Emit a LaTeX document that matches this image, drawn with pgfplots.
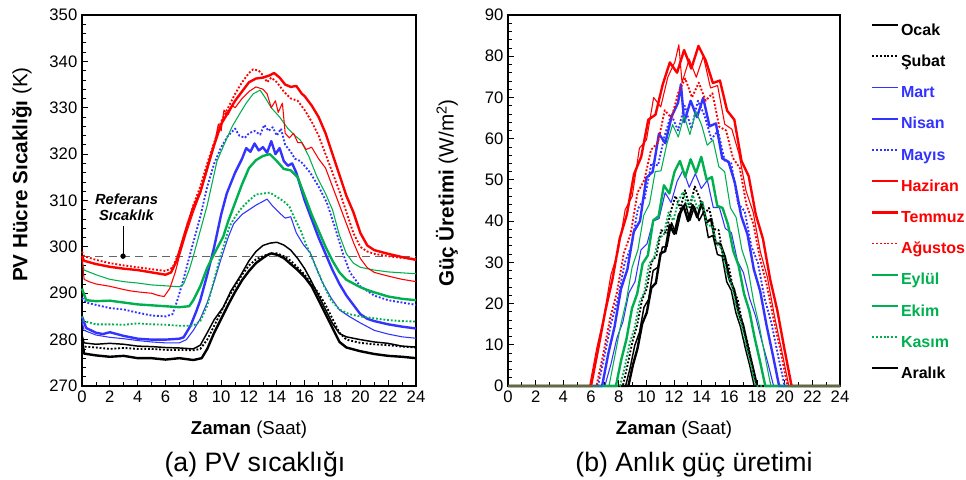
\documentclass[border=0pt]{standalone}
\usepackage{fontspec}
\setmainfont{Liberation Sans}
\usepackage{pgfplots}
\pgfplotsset{compat=1.18}
\definecolor{cblue}{RGB}{51,51,255}
\definecolor{cred}{RGB}{255,0,0}
\definecolor{cgreen}{RGB}{0,176,80}
\pgfplotsset{
 common/.style={
  scale only axis, height=278.25pt,
  xmin=0, xmax=24, xtick={0,2,...,24}, minor x tick num=1,
  tick pos=left, tick align=inside, major tick length=4.5pt, minor tick length=3pt,
  tick style={black, line width=0.6pt},
  axis line style={line width=0.8pt},
  /pgf/number format/assume math mode=true,
  ticklabel style={font=\fontsize{12.5}{14}\selectfont},
  xlabel style={font=\fontsize{14}{16}\selectfont, at={(axis description cs:0.5,-0.119)}, anchor=center},
  ylabel style={font=\fontsize{15.5}{17}\selectfont, anchor=center},
  clip=false,
  every axis plot/.append style={mark=none, line join=round},
 },
 sOcak/.style={black, line width=1.8pt},
 sSubat/.style={black, line width=1.4pt, dash pattern=on 1.4pt off 1.4pt},
 sMart/.style={cblue, line width=0.8pt},
 sNisan/.style={cblue, line width=1.8pt},
 sMayis/.style={cblue, line width=1.4pt, dash pattern=on 1.4pt off 1.4pt},
 sHaziran/.style={cred, line width=0.8pt},
 sTemmuz/.style={cred, line width=1.8pt},
 sAgustos/.style={cred, line width=1.4pt, dash pattern=on 1.4pt off 1.4pt},
 sEylul/.style={cgreen, line width=0.8pt},
 sEkim/.style={cgreen, line width=1.8pt},
 sKasim/.style={cgreen, line width=1.4pt, dash pattern=on 1.4pt off 1.4pt},
 sAralik/.style={black, line width=1.1pt},
}
\begin{document}
\begin{tikzpicture}
\useasboundingbox (0,0) rectangle (724.5pt,359.25pt);
% ---------------- (a) PV temperature ----------------
\begin{axis}[common, width=250.5pt, at={(61.5pt,69.75pt)}, anchor=south west,
  ymin=270, ymax=350, ytick={270,280,...,350}, minor y tick num=4,
  xlabel={\textbf{Zaman} (Saat)},
  ylabel={\textbf{PV Hücre Sıcaklığı} (K)},
  ylabel style={at={(axis description cs:-0.18,0.57)}},
]
\addplot[gray!80!black, line width=0.8pt, dash pattern=on 6pt off 4pt] coordinates {(0,298)(24,298)};
\addplot[sOcak] coordinates {(0,280)(0.15,277)(1,276.6)(2,276.3)(3,276.5)(4,276)(5,276)(6,275.7)(7,276)(8,275.6)(8.6,276)(9,278)(9.5,281.5)(10,284.5)(10.5,287.5)(11,290.3)(11.5,292.8)(12,294.8)(12.5,296.5)(13,297.6)(13.3,298.2)(13.6,298.6)(14,298.3)(14.5,297.6)(15,296.3)(15.5,295)(16,293.5)(16.5,291.5)(17,288.5)(17.5,285.5)(18,282.5)(18.5,279.5)(19,278.3)(20,277.5)(21,276.9)(22,276.5)(23,276.3)(24,276)};
\addplot[sSubat] coordinates {(0,279)(0.15,278.5)(1,278.3)(2,278)(3,278.2)(4,278)(5,278)(6,277.8)(7,277.8)(8,277.7)(8.5,278)(9,280)(9.5,283)(10,286)(10.5,289)(11,291.5)(11.5,294)(12,296)(12.5,297.3)(13,298)(13.5,298.5)(14,298.6)(14.5,298)(15,297)(15.5,295.5)(16,294)(16.5,292)(17,290)(17.5,287.5)(18,284.5)(18.5,281.5)(19,280)(20,279.3)(21,279)(22,278.8)(23,278.5)(24,278.3)};
\addplot[sAralik] coordinates {(0,281)(0.15,279.3)(1,279)(2,279.2)(3,279)(4,278.6)(5,278.5)(6,278.3)(7,278.2)(8,278)(8.5,278.8)(9,281.5)(9.5,284.3)(10.15,287)(10.7,290.5)(11.35,293.6)(12,297)(12.5,299)(13,300.3)(13.5,300.8)(14,301)(14.5,300.4)(15,299.3)(15.5,297.5)(16,295.3)(16.5,292.5)(17,289.5)(17.5,286.5)(18,283.5)(18.5,281.3)(19,280.6)(20,280)(21,279.5)(22,279.2)(23,278.6)(24,278.4)};
\addplot[sMart] coordinates {(0,284)(0.15,282)(1,281)(2,280.5)(3,280.2)(4,279.8)(5,279.5)(6,279.3)(7,279.3)(7.5,280)(8,282)(8.5,284.5)(9,288)(9.5,292.5)(10,297.5)(10.5,302)(10.9,305)(11.5,307)(12,308)(12.5,309)(13,309.8)(13.3,310.3)(13.7,308.8)(14.2,307.3)(14.6,306.2)(15,306.5)(15.4,303)(15.9,300.5)(16.4,298.7)(16.9,295)(17.3,292.2)(17.9,289)(18.5,286.4)(19.2,285)(20,283.6)(21,282)(22,281.2)(23,280.6)(24,280.3)};
\addplot[sNisan] coordinates {(0,285)(0.3,282.5)(1,281.5)(1.5,281.2)(2,281.6)(3,280.8)(4,280.2)(5,280)(6,280)(7,280.2)(7.3,280.5)(7.8,283)(8.2,286)(8.5,288.5)(9,294)(9.5,300)(10,307)(10.4,311.5)(11,316)(11.5,319)(11.8,321.3)(12.1,320.5)(12.4,322.3)(12.7,320.8)(13,321.5)(13.3,320.3)(13.6,322.8)(13.9,320)(14.2,321.3)(14.5,318.5)(14.8,317.5)(15.1,318)(15.4,316)(16,310)(16.5,306)(17,302)(17.5,298.5)(18,295)(18.5,292)(19,289.5)(19.5,287.5)(20,285.5)(20.5,284.5)(21,284)(22,283.3)(23,282.8)(24,282.4)};
\addplot[sMayis] coordinates {(0,289)(0.3,288)(1,287.5)(2,286.8)(3,286.5)(4,285.8)(5,285.2)(6,285)(6.5,285.5)(6.8,288)(7.2,292)(7.6,296.5)(8,301)(8.5,306.5)(9,313)(9.5,318)(10,321.5)(10.5,324)(11,325.5)(11.3,324)(11.7,323.5)(12,324.5)(12.4,325)(12.8,324.2)(13.1,326.3)(13.4,325)(13.7,325.8)(14,324)(14.3,325.5)(14.6,322)(15,320.5)(15.3,319)(15.7,318.5)(16.4,316)(17,313)(17.6,309.5)(18.2,304)(18.7,299)(19.25,294.5)(20,291.5)(21,289.5)(22,288.5)(23,288)(24,287.5)};
\addplot[sKasim] coordinates {(0,285)(0.15,284)(1,283.3)(2,283.3)(3,283.2)(4,283.5)(5,283.3)(6,283.2)(7,283)(8,283)(8.5,284)(9,287.3)(9.5,293)(10,298.5)(10.6,304.4)(11,306.5)(11.5,308.5)(12,310)(12.5,311.3)(13,311.5)(13.5,311.7)(14,310.8)(14.5,309.8)(14.9,308.7)(15.3,306)(15.7,303.6)(16.1,300.5)(16.4,298.6)(16.9,295)(17.4,291.5)(17.9,288.5)(18.5,286.5)(19.2,285.5)(20,285)(21,284.6)(22,284.2)(23,284)(24,283.9)};
\addplot[sEkim] coordinates {(0,291)(0.3,288.5)(1,288.3)(2,288.4)(3,288)(4,287.6)(5,287.4)(6,287.2)(7,287)(7.7,287.2)(8,288.5)(8.5,291.5)(9,295.5)(9.5,298.5)(10.15,302.2)(10.5,305.5)(11,309.5)(11.5,313.5)(12,317)(12.5,318.7)(13,319.6)(13.5,320)(14,318.5)(14.5,316.8)(15,316.5)(15.5,315)(16,311)(16.5,307)(17,303.5)(17.5,300)(18,297)(18.5,294.5)(19,292.9)(20,291.3)(20.5,290.7)(21,290.2)(22,289.3)(23,288.8)(24,288.5)};
\addplot[sEylul] coordinates {(0,297)(0.15,295)(1,294)(2,293)(3,292.5)(4,292.2)(5,291.8)(6,291.6)(7,291.4)(7.3,292)(7.7,295)(8,298)(8.5,303.5)(9,309)(9.7,318.5)(10.2,322)(10.8,326)(11.35,328.8)(11.8,331)(12.3,333)(12.8,333.8)(13.2,332)(13.6,330)(14.2,328)(14.8,325.5)(15.3,324)(15.7,323)(16.3,319.5)(16.9,315)(17.5,311.5)(18,308)(18.5,302.5)(19,298.5)(19.5,296.5)(20,295.6)(21,295)(22,294.6)(23,294.4)(24,294.2)};
\addplot[sHaziran] coordinates {(0,298)(0.15,293)(0.5,292.5)(1,292)(2,291.5)(3,290.8)(3.5,290.5)(4,290.3)(5,290)(5.5,289.5)(5.9,289.3)(6.3,291)(6.7,294.5)(7,298)(7.5,303)(8,307.5)(8.5,311.5)(9,316.5)(9.5,322)(9.8,326.5)(10,325)(10.2,329.5)(10.5,328.5)(10.8,330.5)(11,330)(11.5,332)(12,333.5)(12.5,334.5)(13,334)(13.3,333)(13.6,330)(13.9,331.5)(14.1,329)(14.4,331)(14.6,324.5)(14.9,323.5)(15.2,324.5)(15.5,322.5)(15.8,322.5)(16.1,321)(16.5,321.5)(17,319)(17.5,317)(18,313)(18.5,309)(19,305)(19.5,301)(20,297.5)(20.5,295.5)(21,294.5)(22,293.7)(23,293)(24,292.5)};
\addplot[sAgustos] coordinates {(0,299)(0.15,298)(1,297.2)(2,296.5)(3,296)(4,295.6)(5,295.2)(6,294.8)(6.5,295.5)(6.8,297.5)(7.2,301)(7.6,305)(8,309)(8.5,313)(9,318)(9.5,322.5)(10,327)(10.5,330)(11,333)(11.5,335.5)(12,337.5)(12.3,338.3)(12.7,338)(13,337)(13.3,335.5)(13.6,336.5)(14,335.5)(14.5,333.5)(15,332)(15.5,331.5)(16,329.5)(16.5,327)(17,324)(17.5,320)(18,316)(18.5,312)(19,307.5)(19.5,303)(20,300)(20.5,299)(21,298.5)(22,298)(23,297.6)(24,297.4)};
\addplot[sTemmuz] coordinates {(0,298)(0.15,297)(1,296.3)(2,295.7)(3,295.3)(4,295)(5,294.5)(6,294)(6.4,294.5)(6.8,297)(7.2,301)(7.6,305)(8,308.5)(8.5,311.8)(9,317)(9.5,322)(10,326.5)(10.5,329)(11,331.5)(11.5,333.5)(12,335.5)(12.5,336.3)(13,336.5)(13.5,337)(13.8,337.5)(14.2,336.5)(14.6,335)(15,334.5)(15.4,334.7)(15.8,333)(16,332.5)(16.5,330.5)(17,328)(17.5,324.5)(18,320)(18.5,315.5)(19,311)(19.5,307.5)(20,303)(20.5,300.3)(21,299.3)(22,298.5)(23,297.8)(24,297.2)};
% reference annotation
\addplot[black, line width=0.8pt] coordinates {(2.95,298)(2.95,304.6)};
\addplot[black, only marks, mark=*, mark size=1.8pt] coordinates {(2.95,298)};
\node[align=center, font=\bfseries\itshape\fontsize{11}{12}\selectfont] at (axis cs:3.2,308.6) {Referans\\Sıcaklık};
\end{axis}
% ---------------- (b) power ----------------
\begin{axis}[common, width=249pt, at={(381pt,69.75pt)}, anchor=south west,
  ymin=0, ymax=90, ytick={0,10,...,90}, minor y tick num=4,
  xlabel={\textbf{Zaman} (Saat)},
  ylabel={\textbf{Güç Üretimi} (W/m\textsuperscript{2})},
  ylabel style={at={(axis description cs:-0.184,0.52)}},
  legend style={at={(axis description cs:1.0934,0.98)}, anchor=north west, draw=none, fill=none,
    inner sep=0pt, row sep=11.4pt, column sep=1pt,
    font=\bfseries\fontsize{12}{14}\selectfont,
    nodes={inner sep=0pt, text height=9.5pt, text depth=2.5pt}},
  legend cell align=left,
  legend image code/.code={\draw[line cap=butt, #1] (0pt,4.2pt) -- (19.5pt,4.2pt);},
]
\addplot[sOcak, forget plot] coordinates {(0,0)(8.70,0)(9.03,5.1)(9.36,9.1)(9.70,15.1)(10.03,17.8)(10.36,23.8)(10.69,25.0)(11.03,32.2)(11.36,32.7)(11.69,39.1)(12.02,36.9)(12.35,41.5)(12.69,43.7)(13.02,40.0)(13.35,43.9)(13.68,40.9)(14.01,44.6)(14.35,39.7)(14.68,40.5)(15.01,34.6)(15.34,34.5)(15.68,31.3)(16.01,25.9)(16.34,23.4)(16.67,17.8)(17.00,14.7)(17.34,9.3)(17.67,4.8)(18.00,0)(24,0)};
\addplot[sSubat, forget plot] coordinates {(0,0)(8.30,0)(8.65,5.2)(8.99,10.7)(9.34,14.8)(9.69,20.9)(10.03,23.6)(10.38,30.1)(10.73,31.6)(11.07,37.8)(11.42,37.2)(11.76,42.3)(12.11,46.1)(12.46,43.0)(12.80,47.5)(13.15,43.3)(13.50,48.4)(13.84,45.7)(14.19,41.6)(14.53,43.2)(14.88,38.1)(15.23,37.8)(15.57,30.7)(15.92,29.6)(16.27,23.6)(16.61,20.9)(16.96,14.8)(17.31,10.7)(17.65,5.2)(18.00,0)(24,0)};
\addplot[sAralik, forget plot] coordinates {(0,0)(8.50,0)(8.83,4.4)(9.16,9.8)(9.50,13.0)(9.83,19.1)(10.16,21.0)(10.49,28.0)(10.83,28.8)(11.16,33.7)(11.49,33.8)(11.82,39.6)(12.15,36.9)(12.49,41.9)(12.82,44.4)(13.15,40.2)(13.48,43.5)(13.81,40.1)(14.15,42.3)(14.48,36.0)(14.81,36.5)(15.14,31.9)(15.48,31.5)(15.81,25.3)(16.14,23.2)(16.47,17.8)(16.80,14.4)(17.14,9.4)(17.47,5.0)(17.80,0)(24,0)};
\addplot[sKasim, forget plot] coordinates {(0,0)(8.10,0)(8.45,4.8)(8.80,10.4)(9.15,14.1)(9.50,20.3)(9.85,22.7)(10.20,29.7)(10.55,31.0)(10.90,36.0)(11.25,36.5)(11.60,42.1)(11.95,40.1)(12.30,44.7)(12.65,47.1)(13.00,43.4)(13.35,46.3)(13.70,43.1)(14.05,44.9)(14.40,38.9)(14.75,38.9)(15.10,34.4)(15.45,33.4)(15.80,27.3)(16.15,24.7)(16.50,19.1)(16.85,15.3)(17.20,10.0)(17.55,5.3)(17.90,0)(24,0)};
\addplot[sMart, forget plot] coordinates {(0,0)(7.00,0)(7.44,5.3)(7.87,11.6)(8.31,15.6)(8.74,22.6)(9.18,25.3)(9.61,33.0)(10.05,34.5)(10.49,40.0)(10.92,40.6)(11.36,46.9)(11.79,44.5)(12.23,49.7)(12.66,52.4)(13.10,48.2)(13.54,51.5)(13.97,47.9)(14.41,49.9)(14.84,43.3)(15.28,43.3)(15.71,38.2)(16.15,37.2)(16.59,30.3)(17.02,27.5)(17.46,21.3)(17.89,17.0)(18.33,11.1)(18.76,5.9)(19.20,0)(24,0)};
\addplot[sEkim, forget plot] coordinates {(0,0)(7.80,0)(8.19,6.4)(8.57,11.5)(8.96,18.8)(9.34,22.4)(9.73,29.7)(10.11,31.7)(10.50,40.2)(10.89,41.2)(11.27,48.7)(11.66,46.7)(12.04,52.0)(12.43,54.6)(12.81,50.7)(13.20,55.0)(13.59,51.7)(13.97,55.6)(14.36,50.0)(14.74,50.7)(15.13,43.7)(15.51,43.2)(15.90,39.2)(16.29,32.7)(16.67,29.2)(17.06,22.4)(17.44,18.3)(17.83,11.7)(18.21,6.1)(18.60,0)(24,0)};
\addplot[sNisan, forget plot] coordinates {(0,0)(6.80,0)(7.26,8.0)(7.71,14.5)(8.17,23.6)(8.63,28.3)(9.09,37.4)(9.54,40.0)(10.00,50.5)(10.46,52.0)(10.91,61.2)(11.37,58.9)(11.83,65.4)(12.29,68.7)(12.50,73.2)(12.74,64.0)(13.20,69.2)(13.66,65.2)(14.11,69.9)(14.57,63.0)(15.03,63.7)(15.49,55.2)(15.94,54.4)(16.40,49.3)(16.86,41.2)(17.31,36.8)(17.77,28.3)(18.23,23.0)(18.69,14.7)(19.14,7.6)(19.60,0)(24,0)};
\addplot[sMayis, forget plot] coordinates {(0,0)(6.50,0)(6.98,7.4)(7.46,15.3)(7.95,21.2)(8.43,29.8)(8.91,33.9)(9.39,43.0)(9.88,45.5)(10.36,54.0)(10.84,53.5)(11.32,60.7)(11.80,65.9)(12.29,62.0)(12.77,68.0)(13.25,62.4)(13.73,69.2)(14.21,65.6)(14.70,59.9)(15.18,61.9)(15.66,54.7)(16.14,54.0)(16.63,44.3)(17.11,42.4)(17.59,33.9)(18.07,29.8)(18.55,21.2)(19.04,15.3)(19.52,7.4)(20.00,0)(24,0)};
\addplot[sAgustos, forget plot] coordinates {(0,0)(6.40,0)(6.89,7.8)(7.39,16.5)(7.88,22.8)(8.37,32.2)(8.86,36.8)(9.36,46.9)(9.85,49.9)(10.34,57.3)(10.84,59.0)(11.33,66.9)(11.82,65.0)(12.31,71.2)(12.81,74.6)(13.30,70.0)(13.79,73.6)(14.29,69.2)(14.78,71.0)(15.27,62.9)(15.76,62.0)(16.26,55.3)(16.75,52.9)(17.24,43.9)(17.74,39.3)(18.23,30.7)(18.72,24.3)(19.21,16.0)(19.71,8.4)(20.20,0)(24,0)};
\addplot[sHaziran, forget plot] coordinates {(0,0)(5.90,0)(6.41,9.1)(6.93,16.8)(7.44,27.0)(7.96,32.6)(8.47,42.8)(8.98,46.0)(9.50,57.7)(10.01,59.7)(10.53,70.0)(11.04,67.7)(11.55,74.9)(12.07,78.7)(12.35,82.8)(12.58,73.6)(13.10,79.3)(13.61,74.9)(14.12,80.0)(14.64,72.3)(15.15,72.9)(15.67,63.5)(16.18,62.3)(16.69,56.4)(17.21,47.3)(17.72,42.2)(18.24,32.6)(18.75,26.4)(19.26,17.0)(19.78,8.7)(20.30,0)(24,0)};
\addplot[sTemmuz, forget plot] coordinates {(0,0)(6.00,0)(6.52,9.0)(7.04,18.3)(7.55,25.9)(8.07,35.7)(8.59,41.6)(9.11,51.4)(9.63,55.6)(10.14,64.6)(10.66,65.8)(11.18,73.1)(11.70,78.5)(12.22,76.0)(12.73,81.5)(13.25,77.0)(13.77,82.5)(14.29,79.0)(14.81,73.5)(15.32,74.1)(15.84,66.8)(16.36,64.6)(16.88,54.6)(17.40,50.9)(17.91,41.6)(18.43,35.7)(18.95,25.9)(19.47,18.3)(19.98,9.0)(20.50,0)(24,0)};
\addplot[sEylul, forget plot] coordinates {(0,0)(7.30,0)(7.72,7.2)(8.14,14.7)(8.55,20.6)(8.97,28.8)(9.39,33.0)(9.81,41.4)(10.23,44.2)(10.64,52.0)(11.06,52.2)(11.48,58.7)(11.90,63.4)(12.31,60.4)(12.73,65.6)(13.15,61.0)(13.57,66.6)(13.99,63.4)(14.40,58.4)(14.82,59.7)(15.24,53.2)(15.66,52.0)(16.08,43.2)(16.49,40.9)(16.91,33.0)(17.33,28.8)(17.75,20.6)(18.16,14.7)(18.58,7.2)(19.00,0)(24,0)};
\addlegendimage{black, line width=1.8pt}\addlegendentry{Ocak}
\addlegendimage{black, line width=1.4pt, dash pattern=on 1.4pt off 1.4pt}\addlegendentry{Şubat}
\addlegendimage{cblue, line width=1.3pt}\addlegendentry{\textcolor{cblue}{Mart}}
\addlegendimage{cblue, line width=1.8pt}\addlegendentry{\textcolor{cblue}{Nisan}}
\addlegendimage{cblue, line width=1.4pt, dash pattern=on 1.4pt off 1.4pt}\addlegendentry{\textcolor{cblue}{Mayıs}}
\addlegendimage{cred, line width=1.3pt}\addlegendentry{\textcolor{cred}{Haziran}}
\addlegendimage{cred, line width=1.8pt}\addlegendentry{\textcolor{cred}{Temmuz}}
\addlegendimage{cred, line width=1.4pt, dash pattern=on 1.4pt off 1.4pt}\addlegendentry{\textcolor{cred}{Ağustos}}
\addlegendimage{cgreen, line width=1.3pt}\addlegendentry{\textcolor{cgreen}{Eylül}}
\addlegendimage{cgreen, line width=1.8pt}\addlegendentry{\textcolor{cgreen}{Ekim}}
\addlegendimage{cgreen, line width=1.4pt, dash pattern=on 1.4pt off 1.4pt}\addlegendentry{\textcolor{cgreen}{Kasım}}
\addlegendimage{black, line width=1.3pt}\addlegendentry{Aralık}
\end{axis}
\node[anchor=base, font=\fontsize{20}{24}\selectfont] at (191.25pt,6pt) {(a) PV sıcaklığı};
\node[anchor=base, font=\fontsize{20}{24}\selectfont] at (520.5pt,6pt) {(b) Anlık güç üretimi};
\end{tikzpicture}
\end{document}
